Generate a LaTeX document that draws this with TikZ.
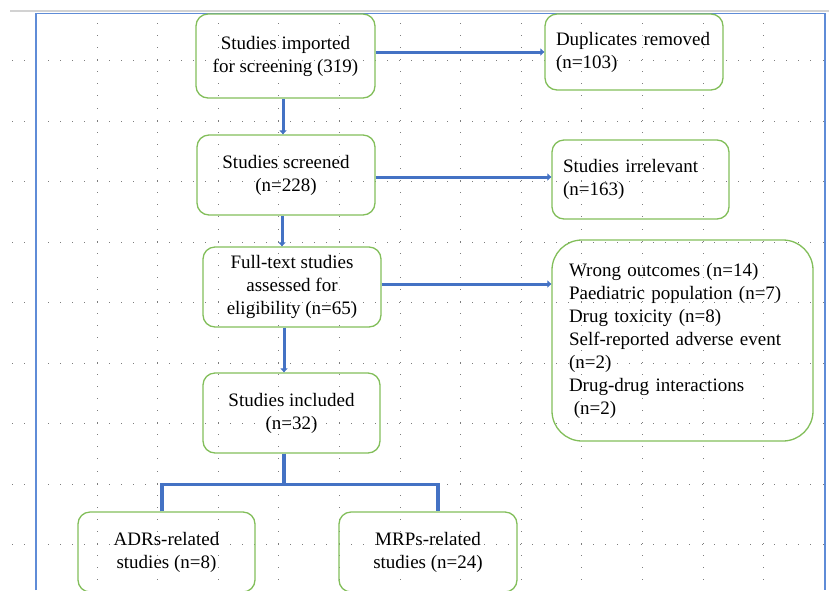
\documentclass[tikz,border=0pt]{standalone}
\usepackage{fontspec}
\setmainfont{Liberation Serif}
\usetikzlibrary{arrows.meta}
\definecolor{boxgreen}{RGB}{130,190,90}
\definecolor{connblue}{RGB}{68,114,196}
\definecolor{frameblue}{RGB}{95,140,215}
\definecolor{dotgray}{RGB}{125,125,125}
\tikzset{
  box/.style={draw=boxgreen, line width=1.3pt, rounded corners=12pt, align=center,
    font=\fontsize{19}{23}\selectfont, inner sep=0pt},
  conn/.style={draw=connblue, line width=3pt, -{Triangle[length=4pt,width=7pt]}},
  bar/.style={draw=connblue, line width=3.5pt},
  dotmark/.style={fill=dotgray}
}
\begin{document}
\begin{tikzpicture}[x=1pt,y=-1pt]
\useasboundingbox (0,0) rectangle (829,590);
\clip (0,0) rectangle (829,590);
% dotted grid
\foreach \r in {0,...,8}
  \foreach \i in {0,...,67}
    \fill[dotmark] ({12.3+12.1*\i-0.5},{60.5+60.5*\r-0.5}) rectangle ++(1,1);
\foreach \c in {0,...,11}
  \foreach \j in {0,...,47}
    \fill[dotmark] ({97+60.6*\c-0.5},{23.3+12.1*\j-0.5}) rectangle ++(1,1);
% page frame
\draw[gray!35, line width=2.5pt] (10,11) -- (829,11);
\draw[frameblue, line width=1.3pt] (36,590) -- (36,13.5) -- (825,13.5) -- (825,590);
% boxes
\node[box, minimum width=179pt, minimum height=84pt] (imp) at (285.5,56) {Studies imported\\for screening (319)};
\node[box, minimum width=178pt, minimum height=76pt, text width=156pt, align=left] (dup) at (634,52) {Duplicates removed\\(n=103)};
\node[box, minimum width=178pt, minimum height=80pt] (scr) at (286,175) {Studies screened\\(n=228)};
\node[box, minimum width=177pt, minimum height=79pt, text width=155pt, align=left] (irr) at (640.5,179.5) {Studies irrelevant\\(n=163)};
\node[box, minimum width=178pt, minimum height=80pt] (full) at (292,287) {Full-text studies\\assessed for\\eligibility (n=65)};
\node[box, rounded corners=30pt, minimum width=261pt, minimum height=201pt, text width=227pt, align=left] (excl) at (682.5,340.5) {Wrong outcomes (n=14)\\Paediatric population (n=7)\\Drug toxicity (n=8)\\Self-reported adverse event\\(n=2)\\Drug-drug interactions\\\hspace*{0.25em}(n=2)};
\node[box, minimum width=177pt, minimum height=80pt] (inc) at (291.5,413) {Studies included\\(n=32)};
\node[box, minimum width=177pt, minimum height=80pt] (adr) at (166.5,552) {ADRs-related\\studies (n=8)};
\node[box, minimum width=178pt, minimum height=80pt] (mrp) at (428,552) {MRPs-related\\studies (n=24)};
% connectors
\draw[conn] ([yshift=4pt]imp.east) -- (dup.west);
\draw[conn] ([xshift=-2.5pt]imp.south) -- ([xshift=-3pt]scr.north);
\draw[conn] ([yshift=-2pt]scr.east) -- ([yshift=2.5pt]irr.west);
\draw[conn] ([xshift=-4pt]scr.south) -- ([xshift=-10pt]full.north);
\draw[conn] ([yshift=3pt]full.east) -- ([yshift=56.5pt]excl.west);
\draw[conn] ([xshift=-8pt]full.south) -- ([xshift=-7.5pt]inc.north);
\draw[bar] ([xshift=-7.5pt]inc.south) -- ++(0,31) coordinate (split);
\draw[bar] ([xshift=-4.5pt]adr.north) |- (split) -| ([xshift=10pt]mrp.north);
\end{tikzpicture}
\end{document}
